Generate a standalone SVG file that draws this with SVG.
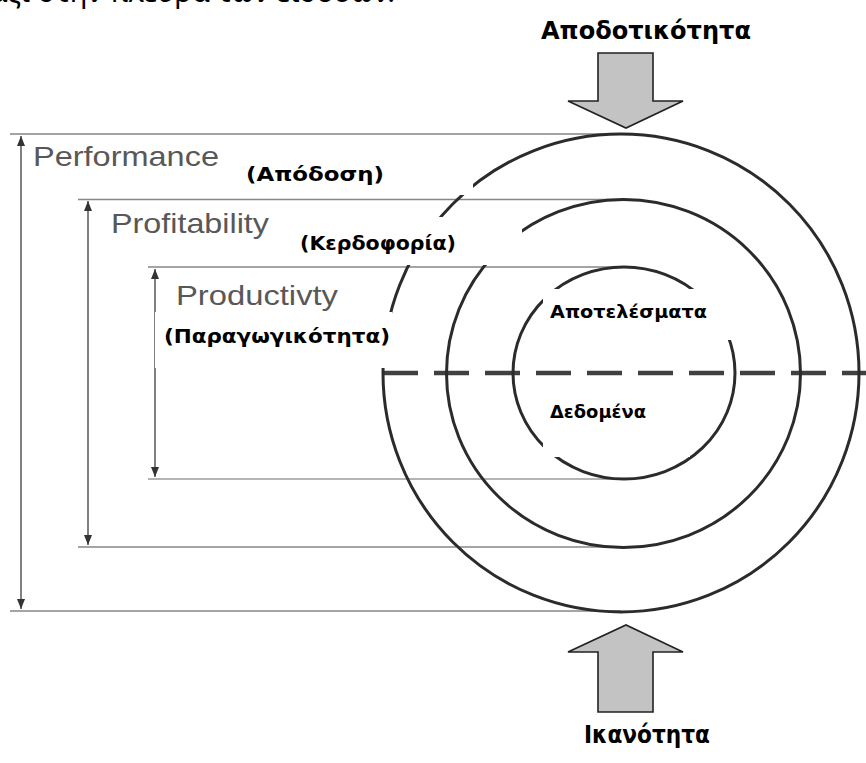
<svg xmlns="http://www.w3.org/2000/svg" width="866" height="763" viewBox="0 0 866 763">
<style>
.hl{stroke:#868686;stroke-width:1.6;fill:none}
.vl{stroke:#4a4a4a;stroke-width:1.4;fill:none;marker-start:url(#ah);marker-end:url(#ah)}
.ring{fill:none;stroke:#2b2b2b;stroke-width:3}
.mask{fill:#ffffff}
.en{font-family:"Liberation Sans",Arial,sans-serif;font-size:28px;fill:#585858}
.gr{font-family:"DejaVu Sans",sans-serif;font-weight:bold;font-size:20px;fill:#000}
.title{font-family:"DejaVu Sans",sans-serif;font-weight:bold;font-size:24px;fill:#000}
.blk{fill:#c3c3c3;stroke:#222;stroke-width:1.6;stroke-linejoin:miter}
</style>
<defs>
<marker id="ah" viewBox="0 0 10 8" refX="10" refY="4" markerWidth="10" markerHeight="8" markerUnits="userSpaceOnUse" orient="auto-start-reverse">
<path d="M0,0 L10,4 L0,8 z" fill="#333"/>
</marker>
</defs>
<rect width="866" height="763" fill="#fff"/>
<text x="395" y="2" text-anchor="end" font-family="'Noto Sans',sans-serif" font-size="29" fill="#000">μαζί στην πλευρά των εισόδων.</text>

<g id="connectors">
<line class="hl" x1="10" y1="134" x2="621" y2="134"/>
<line class="hl" x1="78" y1="199.5" x2="623" y2="199.5"/>
<line class="hl" x1="148" y1="267" x2="624" y2="267"/>
<line class="hl" x1="148" y1="479" x2="624" y2="479" style="stroke:#b4b4b4;stroke-width:2.2"/>
<line class="hl" x1="78" y1="547" x2="623" y2="547"/>
<line class="hl" x1="10" y1="611" x2="621" y2="611"/>
<line class="vl" x1="21" y1="609" x2="21" y2="136"/>
<line class="vl" x1="88" y1="545" x2="88" y2="201"/>
<line class="vl" x1="155" y1="477" x2="155" y2="269"/>
<line x1="383" y1="373" x2="866" y2="373" stroke="#404040" stroke-width="4.5" stroke-dasharray="35 16"/>
</g>

<g id="rings">
<ellipse class="ring" cx="621" cy="373" rx="238" ry="239"/>
<ellipse class="ring" cx="623.5" cy="373.5" rx="177" ry="174"/>
<ellipse class="ring" cx="624" cy="373" rx="111" ry="106"/>
</g>

<g id="masks">
<rect class="mask" x="232" y="143" width="241" height="52"/>
<rect class="mask" x="285" y="217" width="237" height="48"/>
<rect class="mask" x="155" y="312" width="237" height="56"/>
<rect class="mask" x="543" y="289" width="194" height="51"/>
<rect class="mask" x="543" y="387" width="147" height="70"/>
</g>

<g id="performance"><text class="en" x="33" y="166" textLength="186" lengthAdjust="spacingAndGlyphs">Performance</text>
<text class="gr" x="246" y="181" textLength="138" lengthAdjust="spacingAndGlyphs">(Απόδοση)</text></g>
<g id="profitability"><text class="en" x="111" y="233" textLength="158" lengthAdjust="spacingAndGlyphs">Profitability</text>
<text class="gr" x="300" y="250" textLength="156" lengthAdjust="spacingAndGlyphs">(Κερδοφορία)</text></g>
<g id="productivity"><text class="en" x="176" y="305" textLength="162" lengthAdjust="spacingAndGlyphs">Productivty</text>
<text class="gr" x="164" y="343" textLength="226" lengthAdjust="spacingAndGlyphs">(Παραγωγικότητα)</text></g>
<g id="results"><text class="gr" x="550" y="318" textLength="157" lengthAdjust="spacingAndGlyphs" style="font-size:18px">Αποτελέσματα</text></g>
<g id="data"><text class="gr" x="550" y="418" textLength="96" lengthAdjust="spacingAndGlyphs" style="font-size:18px">Δεδομένα</text></g>

<g id="efficiency">
<text class="title" x="646" y="39" text-anchor="middle" textLength="210" lengthAdjust="spacingAndGlyphs">Αποδοτικότητα</text>
<path class="blk" d="M598,53 L653,53 L653,101 L683,101 L626,128 L568,101 L598,101 Z"/>
</g>
<g id="capability">
<path class="blk" d="M598,712 L653,712 L653,652 L683,652 L626,625 L568,652 L598,652 Z"/>
<text class="title" x="647" y="743" text-anchor="middle" textLength="126" lengthAdjust="spacingAndGlyphs">Ικανότητα</text>
</g>
</svg>
